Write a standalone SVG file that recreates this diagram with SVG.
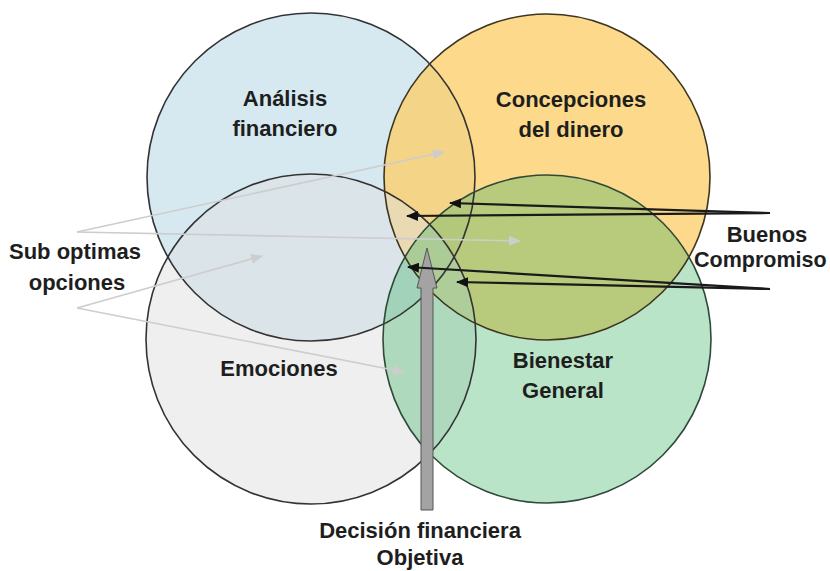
<svg xmlns="http://www.w3.org/2000/svg" width="830" height="571" viewBox="0 0 830 571">
<defs>
<style>
.o{fill:none;stroke-width:1.6}
.t{font-family:"Liberation Sans",Arial,sans-serif;font-weight:bold;font-size:22px;fill:#1e1e1e;text-anchor:middle}
.blk{stroke:#1a1a1a;stroke-width:2.2;fill:none}
.gry{stroke:#cdcdcd;stroke-width:1.6;fill:none}
</style>
<marker id="ab" viewBox="0 0 12 10" refX="11" refY="5" markerWidth="12" markerHeight="10" markerUnits="userSpaceOnUse" orient="auto">
<path d="M0,0 L12,5 L0,10 Z" fill="#111"/>
</marker>
<marker id="ag" viewBox="0 0 12 10" refX="11" refY="5" markerWidth="12" markerHeight="10" markerUnits="userSpaceOnUse" orient="auto">
<path d="M0,0 L12,5 L0,10 Z" fill="#cdcdcd"/>
</marker>
</defs>
<rect width="830" height="571" fill="#fff"/>
<g id="analisis">
<circle cx="311" cy="177" r="164" fill="#d6e9f0"/>
<text class="t" x="285" y="106">Análisis</text>
<text class="t" x="285" y="136">financiero</text>
</g>
<g id="concepciones">
<circle cx="547" cy="177" r="163" fill="#fbcf6e" fill-opacity="0.8"/>
<text class="t" x="571" y="107">Concepciones</text>
<text class="t" x="571" y="137">del dinero</text>
</g>
<g id="emociones">
<circle cx="311" cy="339" r="165" fill="#dfdfdf" fill-opacity="0.5"/>
<text class="t" x="279" y="376">Emociones</text>
</g>
<g id="bienestar">
<circle cx="547" cy="339" r="164" fill="#3ab262" fill-opacity="0.35"/>
<text class="t" x="563" y="368">Bienestar</text>
<text class="t" x="563" y="398">General</text>
</g>
<g id="outlines">
<circle class="o" cx="311" cy="177" r="164" stroke="#333"/>
<circle class="o" cx="547" cy="177" r="163" stroke="#3d3520"/>
<circle class="o" cx="311" cy="339" r="165" stroke="#333"/>
<circle class="o" cx="547" cy="339" r="164" stroke="#2f4a38"/>
</g>
<g id="labels">
<text class="t" x="75" y="259">Sub optimas</text>
<text class="t" x="77" y="290">opciones</text>
<text class="t" x="767" y="242">Buenos</text>
<text class="t" x="694" y="267" style="text-anchor:start;font-size:21.5px">Compromiso</text>
<text class="t" x="420" y="538">Decisión financiera</text>
<text class="t" x="420" y="565">Objetiva</text>
</g>
<g id="connectors">
<path class="gry" d="M77,232 L444,152" marker-end="url(#ag)"/>
<path class="gry" d="M77,232 L520,241" marker-end="url(#ag)"/>
<path class="gry" d="M77,308 L262,256" marker-end="url(#ag)"/>
<path class="gry" d="M77,308 L404,372" marker-end="url(#ag)"/>
<path d="M421,510 L421,288 L417,288 L427,248 L437,288 L433,288 L433,510 Z" fill="#a3a3a3" stroke="#555" stroke-width="1"/>
<path class="blk" d="M770,213 L450,203" marker-end="url(#ab)"/>
<path class="blk" d="M770,213 L407,216" marker-end="url(#ab)"/>
<path class="blk" d="M770,289 L408,267" marker-end="url(#ab)"/>
<path class="blk" d="M770,289 L457,282" marker-end="url(#ab)"/>
</g>
</svg>
